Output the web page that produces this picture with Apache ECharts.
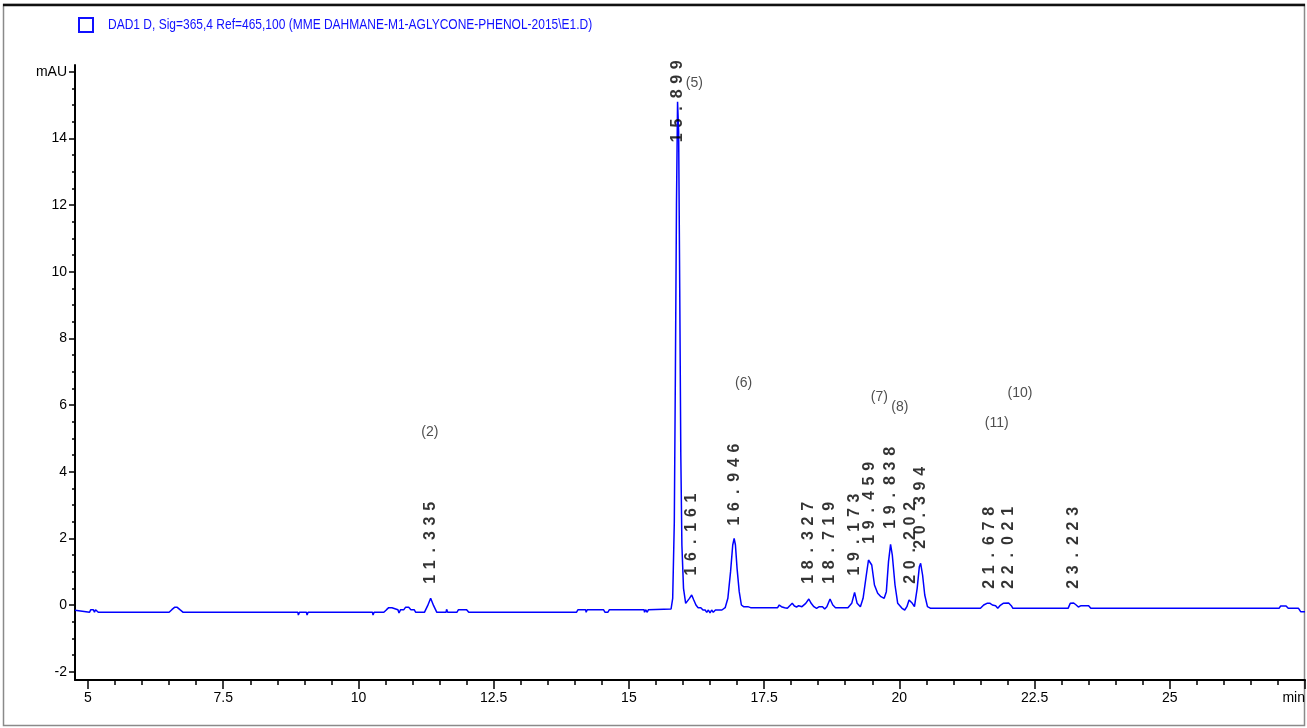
<!DOCTYPE html>
<html>
<head>
<meta charset="utf-8">
<script src="https://cdn.jsdelivr.net/npm/echarts@6/dist/echarts.min.js"></script>
<style>
html,body{margin:0;padding:0;background:#fff;}
#chart{width:1307px;height:728px;}
</style>
</head>
<body>
<div id="chart"></div>
<script>
// ---------- data ----------
const titleText = 'DAD1 D, Sig=365,4 Ref=465,100 (MME DAHMANE-M1-AGLYCONE-PHENOL-2015\\E1.D)';

const xTickValues = [5, 7.5, 10, 12.5, 15, 17.5, 20, 22.5, 25, 27.5];
const xTickLabels = ['5', '7.5', '10', '12.5', '15', '17.5', '20', '22.5', '25', 'min'];
const yTickValues = [-2, 0, 2, 4, 6, 8, 10, 12, 14, 16];
const yTickLabels = ['-2', '0', '2', '4', '6', '8', '10', '12', '14', 'mAU'];

// chromatogram trace [time (min), absorbance (mAU)]
const trace = [
  [4.76,-0.16],[4.79,-0.22],[5.03,-0.22],[5.05,-0.14],[5.10,-0.14],[5.12,-0.22],[5.14,-0.14],[5.17,-0.14],[5.19,-0.22],
  [6.50,-0.22],[6.55,-0.14],[6.60,-0.07],[6.65,-0.07],[6.70,-0.14],[6.76,-0.22],
  [8.88,-0.22],[8.89,-0.30],[8.91,-0.22],[9.04,-0.22],[9.05,-0.30],[9.07,-0.22],
  [10.26,-0.22],[10.27,-0.30],[10.29,-0.22],
  [10.47,-0.22],[10.52,-0.14],[10.56,-0.08],[10.62,-0.08],[10.65,-0.14],[10.73,-0.14],[10.75,-0.24],[10.78,-0.14],
  [10.84,-0.14],[10.87,-0.07],[10.93,-0.07],[10.97,-0.14],[11.03,-0.14],[11.06,-0.22],[11.22,-0.22],[11.28,-0.02],
  [11.335,0.20],[11.39,-0.02],[11.45,-0.22],[11.62,-0.22],[11.63,-0.13],[11.65,-0.22],[11.82,-0.22],[11.85,-0.14],
  [12.00,-0.14],[12.04,-0.22],
  [14.03,-0.22],[14.06,-0.14],[14.20,-0.14],[14.21,-0.22],[14.23,-0.14],[14.53,-0.14],[14.56,-0.22],[14.61,-0.22],
  [14.64,-0.14],[15.28,-0.14],[15.29,-0.22],[15.31,-0.14],[15.33,-0.14],[15.34,-0.22],[15.36,-0.14],[15.78,-0.12],
  [15.81,0.20],[15.84,2.5],[15.86,7.0],[15.88,12.0],[15.90,15.1],[15.92,14.2],[15.94,9.5],[15.96,4.5],[15.98,1.8],
  [16.01,0.50],[16.05,0.05],[16.08,0.00],[16.12,0.20],[16.161,0.30],[16.20,0.15],[16.24,0.00],[16.28,-0.08],[16.33,-0.08],
  [16.37,-0.15],[16.41,-0.15],[16.44,-0.22],[16.47,-0.15],[16.50,-0.24],[16.53,-0.15],[16.56,-0.22],[16.60,-0.15],
  [16.72,-0.15],[16.78,-0.08],[16.83,0.20],[16.88,1.00],[16.92,1.80],[16.946,2.00],[16.97,1.80],[17.00,1.10],[17.04,0.40],
  [17.08,0.00],[17.12,-0.05],[17.20,-0.05],[17.25,-0.08],
  [17.75,-0.08],[17.78,0.00],[17.82,-0.05],[17.88,-0.08],[17.93,-0.10],[17.97,-0.03],[18.02,0.05],[18.06,-0.03],
  [18.10,-0.06],[18.14,-0.02],[18.20,-0.05],[18.27,0.05],[18.327,0.18],[18.37,0.05],[18.42,-0.05],[18.47,-0.10],
  [18.52,-0.05],[18.58,-0.05],[18.62,-0.12],[18.66,-0.05],[18.719,0.18],[18.77,0.00],[18.82,-0.08],[19.05,-0.08],
  [19.12,0.05],[19.173,0.38],[19.22,0.05],[19.28,-0.05],[19.33,0.20],[19.39,0.90],[19.43,1.35],[19.459,1.40],
  [19.49,1.20],[19.54,0.60],[19.60,0.35],[19.66,0.25],[19.72,0.20],[19.76,0.40],[19.80,1.30],[19.838,1.82],
  [19.87,1.50],[19.92,0.60],[19.97,0.05],[20.05,-0.10],[20.10,-0.15],[20.14,-0.05],[20.18,0.15],[20.202,0.18],
  [20.24,0.05],[20.28,-0.05],[20.33,0.50],[20.37,1.15],[20.394,1.25],[20.43,0.90],[20.47,0.30],[20.52,-0.05],[20.58,-0.10],
  [21.50,-0.10],[21.56,0.00],[21.62,0.05],[21.678,0.05],[21.72,0.00],[21.78,-0.02],[21.82,-0.10],[21.86,-0.02],
  [21.92,0.05],[22.021,0.06],[22.07,-0.02],[22.10,-0.10],[22.40,-0.10],[22.41,-0.05],[22.42,-0.10],
  [23.12,-0.10],[23.16,0.05],[23.223,0.06],[23.27,0.00],[23.31,-0.06],[23.36,-0.02],[23.50,-0.02],[23.54,-0.10],
  [24.00,-0.10],[24.01,-0.05],[24.02,-0.10],[25.38,-0.10],[25.39,-0.05],[25.40,-0.10],[27.02,-0.10],[27.05,-0.03],
  [27.15,-0.03],[27.19,-0.10],[27.38,-0.10],[27.42,-0.20],[27.50,-0.20]
];

// retention-time labels and the level (mAU) where each label starts
const peakRT = ['11.335','15.899','16.161','16.946','18.327','18.719','19.173','19.459','19.838','20.202','20.394','21.678','22.021','23.223'];
const peakLabelBase = [0.55, 13.8, 0.8, 2.3, 0.55, 0.55, 0.8, 1.75, 2.2, 0.55, 1.6, 0.4, 0.4, 0.4];

// compound annotations
const annText = ['(2)', '(5)', '(6)', '(7)', '(8)', '(11)', '(10)'];
const annTime = [11.32, 16.21, 17.12, 19.63, 20.01, 21.80, 22.23];
const annMAU  = [5.2, 15.65, 6.65, 6.25, 5.95, 5.45, 6.35];

// ---------- chart ----------
const FONT = '"Liberation Sans", Arial, sans-serif';
const X_MIN = 4.76, X_MAX = 27.5, Y_MIN = -2.25, Y_MAX = 16.2;

function minorValues(major, step) {
  const out = [];
  for (let i = 0; i < major.length - 1; i++) {
    for (let v = major[i] + step; v < major[i + 1] - 1e-9; v += step) out.push(Math.round(v * 1000) / 1000);
  }
  return out;
}
const xMinor = minorValues(xTickValues, 0.5);
const yMinor = minorValues(yTickValues, 0.5);

function labelFor(values, labels) {
  return function (v) {
    for (let i = 0; i < values.length; i++) if (Math.abs(values[i] - v) < 1e-6) return labels[i];
    return '';
  };
}

const chart = echarts.init(document.getElementById('chart'), null, { renderer: 'canvas' });

const option = {
  animation: false,
  backgroundColor: '#ffffff',
  grid: { left: 75, right: 2, top: 65, bottom: 48, containLabel: false, outerBoundsMode: 'none' },
  xAxis: [
    {
      type: 'value', min: X_MIN, max: X_MAX, position: 'bottom',
      axisLine: { show: true, onZero: false, lineStyle: { color: '#000', width: 2 } },
      axisTick: { show: true, customValues: xTickValues, length: 9, lineStyle: { color: '#000', width: 1.5 } },
      axisLabel: { show: true, customValues: xTickValues, formatter: labelFor(xTickValues, xTickLabels),
        color: '#000', fontFamily: FONT, fontSize: 14, margin: 11, alignMaxLabel: 'right' },
      splitLine: { show: false }
    },
    {
      type: 'value', min: X_MIN, max: X_MAX, position: 'bottom', offset: 0,
      axisLine: { show: false, onZero: false },
      axisTick: { show: true, customValues: xMinor, length: 5, lineStyle: { color: '#000', width: 1.5 } },
      axisLabel: { show: false },
      splitLine: { show: false }
    }
  ],
  yAxis: [
    {
      type: 'value', min: Y_MIN, max: Y_MAX, position: 'left',
      axisLine: { show: true, onZero: false, lineStyle: { color: '#000', width: 2 } },
      axisTick: { show: true, customValues: yTickValues, length: 6, lineStyle: { color: '#000', width: 1.5 } },
      axisLabel: { show: true, customValues: yTickValues, formatter: labelFor(yTickValues, yTickLabels),
        color: '#000', fontFamily: FONT, fontSize: 14, margin: 8 },
      splitLine: { show: false }
    },
    {
      type: 'value', min: Y_MIN, max: Y_MAX, position: 'left', offset: 0,
      axisLine: { show: false, onZero: false },
      axisTick: { show: true, customValues: yMinor, length: 3, lineStyle: { color: '#000', width: 1.5 } },
      axisLabel: { show: false },
      splitLine: { show: false }
    }
  ],
  series: [
    {
      name: 'DAD1 D', type: 'line', xAxisIndex: 0, yAxisIndex: 0,
      data: trace, showSymbol: false, symbol: 'none', sampling: null,
      lineStyle: { color: '#0000ff', width: 1.5 }, z: 2, silent: true
    },
    {
      name: 'rt', type: 'scatter', xAxisIndex: 0, yAxisIndex: 0, symbolSize: 0, z: 5, silent: true,
      data: peakRT.map((t, i) => ({ value: [parseFloat(t), peakLabelBase[i]], name: t })),
      label: {
        show: true, position: 'top', distance: 0, rotate: 90, align: 'left', verticalAlign: 'middle',
        formatter: p => p.name.split('').map(c => '{c|' + c + '}').join(''),
        rich: { c: { width: 14.6, align: 'center', fontSize: 16, fontWeight: 'bold', fontFamily: '"Liberation Sans", Arial, sans-serif', color: '#000' } }
      }
    },
    {
      name: 'ann', type: 'scatter', xAxisIndex: 0, yAxisIndex: 0, symbolSize: 0, z: 5, silent: true,
      data: annText.map((s, i) => ({ value: [annTime[i], annMAU[i]], name: s })),
      label: { show: true, position: 'inside', formatter: '{b}', color: '#222', fontFamily: FONT, fontSize: 14 }
    }
  ],
  graphic: [
    { type: 'rect', shape: { x: 3.5, y: 4.5, width: 1301, height: 721 }, style: { fill: 'none', stroke: '#8a8a8a', lineWidth: 1.5 }, silent: true },
    { type: 'line', shape: { x1: 3, y1: 5, x2: 1305, y2: 5 }, style: { stroke: '#111', lineWidth: 2.5 }, silent: true },
    { type: 'rect', shape: { x: 79, y: 18, width: 14, height: 14 }, style: { fill: 'none', stroke: '#1010ff', lineWidth: 2 }, silent: true },
    { type: 'text', x: 108, y: 25, scaleX: 0.827, style: { text: titleText, fill: '#1010ff', font: '14.5px ' + FONT, verticalAlign: 'middle', align: 'left' }, silent: true }
  ]
};
chart.setOption(option);
</script>
</body>
</html>
